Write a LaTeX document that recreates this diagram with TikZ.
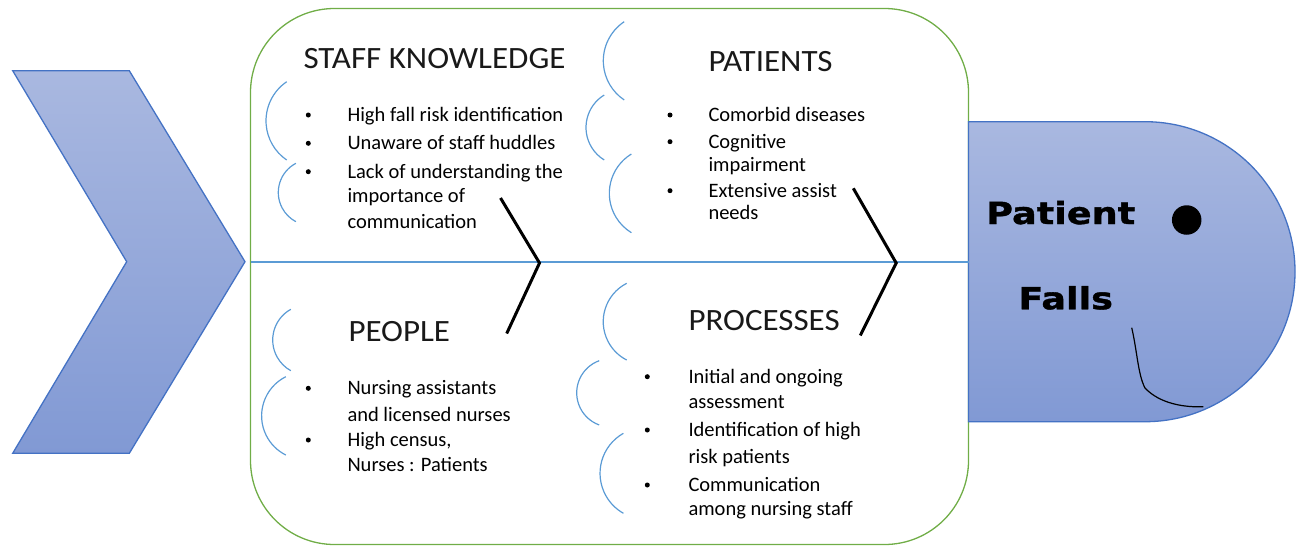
\documentclass[tikz,border=0pt]{standalone}
\usepackage{fontspec}
\setmainfont{Carlito}
\newfontfamily\titlefont{Carlito}[FakeStretch=1.065]
\newfontfamily\headfont{DejaVu Sans Bold}[FakeStretch=1.2, FakeBold=1.2]

\definecolor{frameGreen}{HTML}{70AD47}
\definecolor{spineBlue}{HTML}{5B9BD5}
\definecolor{shapeTop}{HTML}{A9B8E0}
\definecolor{shapeBot}{HTML}{8199D4}
\definecolor{shapeEdge}{HTML}{4472C4}

\tikzset{
  heading/.style={anchor=base west, inner sep=0pt, font=\titlefont\fontsize{31}{36}\selectfont, text=black!90},
  itemline/.style={anchor=base west, inner sep=0pt, font=\fontsize{20.5}{24}\selectfont, text=black},
  bulletdot/.style={circle, fill=black, inner sep=0pt, minimum size=5pt},
  bonearc/.style={draw=spineBlue, line width=1.2pt},
  bone/.style={draw=black, line width=3pt},
  fishshape/.style={draw=shapeEdge, line width=1.3pt, top color=shapeTop, bottom color=shapeBot},
  headtext/.style={anchor=base west, inner sep=0pt, font=\headfont\fontsize{30.5}{36}\selectfont}
}

\begin{document}
\begin{tikzpicture}[x=1pt, y=-1pt]
\useasboundingbox (0,0) rectangle (1301,546);

% tail chevron
\draw[fishshape] (12.7,70.7) -- (129.3,70.7) -- (245,261.7) -- (129.3,453.3)
  -- (12.7,453.3) -- (126.7,261.7) -- cycle;

% body frame
\draw[frameGreen, line width=1.3pt, rounded corners=84pt] (250.5,8.5) rectangle (968.5,544.5);

% head
\draw[fishshape] (968.5,121.7) -- (1145,121.7) arc[start angle=270, end angle=450, radius=150]
  -- (968.5,421.7) -- cycle;

% spine
\coordinate (spineStart) at (250.5,262);
\coordinate (spineEnd) at (968.5,262);
\draw[spineBlue, line width=1.5pt] (spineStart) -- (spineEnd);

% bones
\coordinate (b1top) at (500.5,198);
\coordinate (b1tip) at (539.5,263);
\coordinate (b1bot) at (506.7,333.5);
\coordinate (b2top) at (853.3,188.3);
\coordinate (b2tip) at (896.2,263);
\coordinate (b2bot) at (860.3,335.5);
\draw[bone] (b1top) -- (b1tip) -- (b1bot);
\draw[bone] (b2top) -- (b2tip) -- (b2bot);

% scale arcs
\draw[bonearc] (286.7,81.7) arc[start angle=235.7, end angle=124.3, radius=47.4];
\draw[bonearc] (295.9,163.3) arc[start angle=242.2, end angle=117.8, radius=33.0];
\draw[bonearc] (290.8,309.3) arc[start angle=241, end angle=119, radius=35.1];
\draw[bonearc] (285.8,376.7) arc[start angle=243.4, end angle=116.6, radius=43.8];
\draw[bonearc] (624.2,21.7) arc[start angle=236.2, end angle=123.8, radius=47.1];
\draw[bonearc] (604.2,95) arc[start angle=238.5, end angle=121.5, radius=38.1];
\draw[bonearc] (631.4,154) arc[start angle=238.6, end angle=121.4, radius=46.1];
\draw[bonearc] (626.7,283.3) arc[start angle=242.9, end angle=117.1, radius=43.1];
\draw[bonearc] (599.2,360.7) arc[start angle=250, end angle=110, radius=34.2];
\draw[bonearc] (623.4,433.3) arc[start angle=240.6, end angle=119.4, radius=45.9];

% staff knowledge
\node[heading] (skHead) at (303.3,68.3) {STAFF KNOWLEDGE};
\node[bulletdot] (skB1) at (308.3,115) {};
\node[itemline] (sk1) at (347.3,121.5) {High fall risk identification};
\node[bulletdot] (skB2) at (308.3,143.3) {};
\node[itemline] (sk2) at (347.3,149.8) {Unaware of staff huddles};
\node[bulletdot] (skB3) at (308.3,171.7) {};
\node[itemline] (sk3a) at (347.3,178.2) {Lack of understanding the};
\node[itemline] (sk3b) at (347.3,202.2) {importance of};
\node[itemline] (sk3c) at (347.3,228.2) {communication};

% patients
\node[heading] (ptHead) at (708.3,71) {PATIENTS};
\node[bulletdot] (ptB1) at (670,115) {};
\node[itemline] (pt1) at (708.3,121.5) {Comorbid diseases};
\node[bulletdot] (ptB2) at (670,141.7) {};
\node[itemline] (pt2a) at (708.3,148.2) {Cognitive};
\node[itemline] (pt2b) at (708.3,171.5) {impairment};
\node[bulletdot] (ptB3) at (670,190.7) {};
\node[itemline] (pt3a) at (708.3,197.2) {Extensive assist};
\node[itemline] (pt3b) at (708.3,219.8) {needs};

% people
\node[heading] (ppHead) at (348.3,341.7) {PEOPLE};
\node[bulletdot] (ppB1) at (308.3,388.3) {};
\node[itemline] (pp1a) at (347.3,394.8) {Nursing assistants};
\node[itemline] (pp1b) at (347.3,421.5) {and licensed nurses};
\node[bulletdot] (ppB2) at (308.3,440) {};
\node[itemline] (pp2a) at (347.3,446.5) {High census,};
\node[itemline] (pp2b) at (347.3,471.5) {Nurses : Patients};

% processes
\node[heading] (prHead) at (688.3,330) {PROCESSES};
\node[bulletdot] (prB1) at (647.3,376.7) {};
\node[itemline] (pr1a) at (688.3,383.2) {Initial and ongoing};
\node[itemline] (pr1b) at (688.3,408.2) {assessment};
\node[bulletdot] (prB2) at (647.3,430) {};
\node[itemline] (pr2a) at (688.3,436.5) {Identification of high};
\node[itemline] (pr2b) at (688.3,463.2) {risk patients};
\node[bulletdot] (prB3) at (647.3,485) {};
\node[itemline] (pr3a) at (688.3,491.5) {Communication};
\node[itemline] (pr3b) at (688.3,515.8) {among nursing staff};

% head text, eye and mouth
\node[headtext] (headA) at (986,224) {Patient};
\node[headtext] (headB) at (1018.3,309.3) {Falls};
\node[circle, fill=black, inner sep=0pt, minimum size=29.5pt] (eye) at (1186.7,220) {};
\coordinate (mouthA) at (1131.7,327.7);
\coordinate (mouthB) at (1145,388);
\coordinate (mouthC) at (1203.3,406.7);
\draw[black, line width=1.2pt] (mouthA) .. controls (1137,350) and (1138,375) .. (mouthB)
  .. controls (1160,404) and (1185,407.5) .. (mouthC);
\end{tikzpicture}
\end{document}
